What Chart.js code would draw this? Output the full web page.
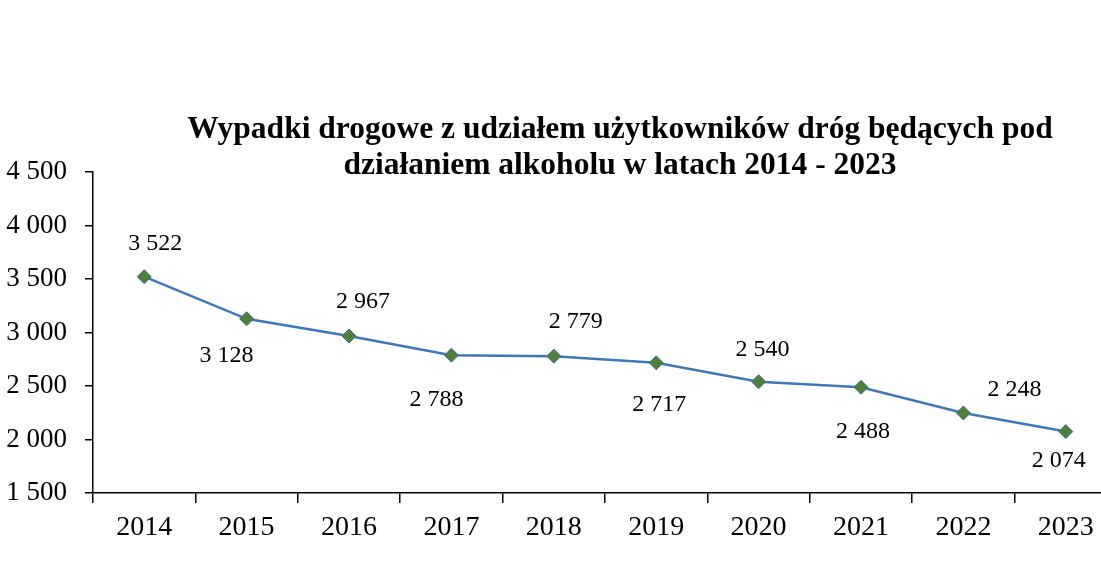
<!DOCTYPE html>
<html>
<head>
<meta charset="utf-8">
<script src="https://cdn.jsdelivr.net/npm/chart.js@4/dist/chart.umd.min.js"></script>
<style>
  html, body { margin: 0; padding: 0; background: #fff; overflow: hidden; }
  #wrap { width: 1125px; height: 579px; }
</style>
</head>
<body>
<div id="wrap"><canvas id="accChart" width="1125" height="579"></canvas></div>
<script>
// Wypadki drogowe z udziałem użytkowników dróg pod działaniem alkoholu

const years = ["2014", "2015", "2016", "2017", "2018", "2019", "2020", "2021", "2022", "2023"];
const accidents = [3522, 3128, 2967, 2788, 2779, 2717, 2540, 2488, 2248, 2074];
const titleLines = [
    "Wypadki drogowe z udziałem użytkowników dróg będących pod",
    "działaniem alkoholu w latach 2014 - 2023"
];

function fmt(v) {
    return String(v).replace(/\B(?=(\d{3})+(?!\d))/g, " ");
}

// etykiety wartości - przesunięcia względem punktu (jak w oryginale)
const labelPlugin = {
    id: "valueLabels",
    afterDatasetsDraw(chart, args, opts) {
        const ctx = chart.ctx;
        const meta = chart.getDatasetMeta(0);
        ctx.save();
        ctx.font = "24px 'Liberation Serif', 'Times New Roman', serif";
        ctx.fillStyle = "#000";
        ctx.textAlign = "center";
        ctx.textBaseline = "middle";
        meta.data.forEach((pt, i) => {
            ctx.fillText(fmt(accidents[i]), pt.x + opts.dx[i], pt.y + opts.dy[i]);
        });
        ctx.restore();
    }
};

const titlePlugin = {
    id: "bigTitle",
    afterDraw(chart) {
        const ctx = chart.ctx;
        ctx.save();
        ctx.font = "bold 31.5px 'Liberation Serif', 'Times New Roman', serif";
        ctx.fillStyle = "#000";
        ctx.textAlign = "center";
        ctx.textBaseline = "alphabetic";
        ctx.fillText(titleLines[0], 620, 138);
        ctx.fillText(titleLines[1], 620, 174);
        ctx.restore();
    }
};

new Chart("accChart", {
    type: "line",
    data: {
        labels: years,
        datasets: [{
            data: accidents,
            borderColor: "#3f78b5",
            borderWidth: 2.5,
            tension: 0,
            pointStyle: "rectRot",
            pointRadius: 7,
            pointBackgroundColor: "#4f8039",
            pointBorderColor: "#3f6e8a",
            pointBorderWidth: 1
        }]
    },
    options: {
        responsive: false,
        animation: false,
        layout: { padding: { top: 172, right: 3, left: 0, bottom: 0 } },
        scales: {
            x: {
                offset: true,
                border: { display: true, color: "#000", width: 1.5 },
                grid: { display: true, offset: true, drawOnChartArea: false, tickLength: 10, color: "#000", lineWidth: 1.5 },
                ticks: {
                    color: "#000",
                    padding: 8,
                    font: { family: "'Liberation Serif', serif", size: 28 }
                },
                afterFit(scale) { scale.height = 86; }
            },
            y: {
                min: 1500,
                max: 4500,
                border: { display: true, color: "#000", width: 1.5 },
                grid: { display: true, drawOnChartArea: false, tickLength: 8, color: "#000", lineWidth: 1.5 },
                ticks: {
                    stepSize: 500,
                    color: "#000",
                    padding: 18,
                    font: { family: "'Liberation Serif', serif", size: 27 },
                    callback: function (value) { return fmt(value); }
                },
                afterFit(scale) { scale.width = 93; }
            }
        },
        plugins: {
            legend: { display: false },
            tooltip: { enabled: false },
            valueLabels: {
                dx: [11, -20, 14, -15, 22, 3, 4, 2, 51, -7],
                dy: [-33, 37, -34, 45, -34, 42, -32, 44, -23, 29]
            }
        }
    },
    plugins: [labelPlugin, titlePlugin]
});
</script>
</body>
</html>
